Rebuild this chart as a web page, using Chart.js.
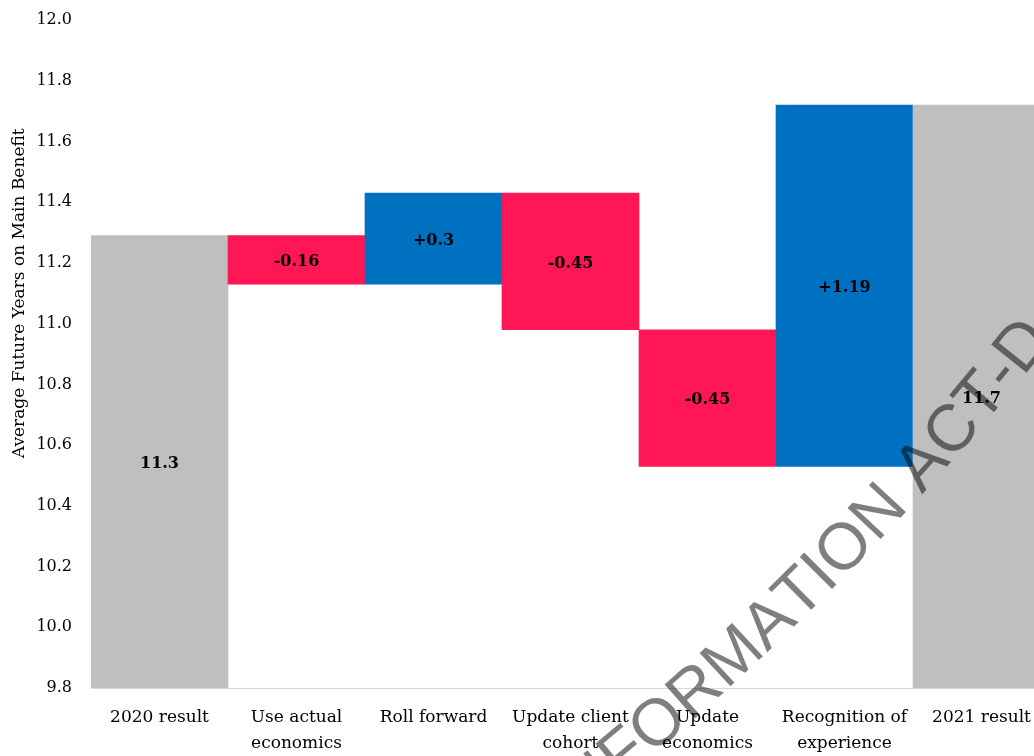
<!DOCTYPE html>
<html>
<head>
<meta charset="utf-8">
<script src="https://cdn.jsdelivr.net/npm/chart.js@4.4.1/dist/chart.umd.min.js"></script>
<style>
  html, body { margin: 0; padding: 0; background: #ffffff; overflow: hidden; width: 1034px; height: 756px; }
  #wrap { position: absolute; left: 0; top: -130px; }
</style>
</head>
<body>
<div id="wrap"><canvas id="chart" width="1070" height="900"></canvas></div>
<script>
// Waterfall: average future years on main benefit, 2020 result to 2021 result
const categories = [
  ['2020 result'],
  ['Use actual', 'economics'],
  ['Roll forward'],
  ['Update client', 'cohort'],
  ['Update', 'economics'],
  ['Recognition of', 'experience'],
  ['2021 result']
];
const startValue = 11.29;
const changes = [-0.16, 0.3, -0.45, -0.45, 1.19];
const yTicks = { min: 9.8, max: 12.4, step: 0.2 };
const watermarkText = 'INFORMATION ACT-D';

const COLORS = { total: '#BFBFBF', down: '#FF1654', up: '#0070C0' };

// running totals -> floating bar ranges
const ranges = [];
const barLabels = [];
const barColors = [];
ranges.push([yTicks.min, startValue]);
barLabels.push(startValue.toFixed(1));
barColors.push(COLORS.total);
let level = startValue;
changes.forEach(c => {
  const next = level + c;
  ranges.push([Math.min(level, next), Math.max(level, next)]);
  barLabels.push((c > 0 ? '+' : '') + String(c));
  barColors.push(c < 0 ? COLORS.down : COLORS.up);
  level = next;
});
ranges.push([yTicks.min, level]);
barLabels.push(level.toFixed(1));
barColors.push(COLORS.total);

// the canvas sits 130px above the page top, so the 12.2 / 12.4 part of the axis is cut off
const PAGE_OFFSET_Y = 130;

const valueLabels = {
  id: 'valueLabels',
  afterDatasetsDraw(chart) {
    const { ctx } = chart;
    const meta = chart.getDatasetMeta(0);
    ctx.save();
    ctx.font = "bold 16px 'DejaVu Serif', serif";
    ctx.fillStyle = '#000000';
    ctx.textAlign = 'center';
    ctx.textBaseline = 'middle';
    meta.data.forEach((bar, i) => {
      const { x, y, base } = bar.getProps(['x', 'y', 'base'], true);
      ctx.fillText(barLabels[i], x, (y + base) / 2 + 2);
    });
    ctx.restore();
  }
};

// stamp text set along a wide arc, anchored on the "T" of "ACT"
const watermark = {
  id: 'watermark',
  afterDraw(chart) {
    const { ctx } = chart;
    const anchorX = 982, anchorY = 398 + PAGE_OFFSET_Y;
    const thetaT = -50 * Math.PI / 180;
    const k = (12 * Math.PI / 180) / 600;      // curvature, rad per px
    ctx.save();
    ctx.font = "66px 'Liberation Sans', sans-serif";
    ctx.fillStyle = 'rgba(0,0,0,0.5)';
    ctx.textBaseline = 'middle';
    ctx.textAlign = 'center';
    const chars = watermarkText.split('');
    const widths = chars.map(c => ctx.measureText(c).width);
    const centers = [];
    let acc = 0;
    widths.forEach(w => { centers.push(acc + w / 2); acc += w; });
    const iT = watermarkText.indexOf('ACT') + 2;
    const sT = centers[iT];
    chars.forEach((c, i) => {
      const ds = centers[i] - sT;
      const th = thetaT - k * ds;
      const x = anchorX + (Math.sin(th) - Math.sin(thetaT)) / (-k);
      const y = anchorY + (Math.cos(thetaT) - Math.cos(th)) / (-k);
      ctx.save();
      ctx.translate(x, y);
      ctx.rotate(th);
      ctx.fillText(c, 0, 0);
      ctx.restore();
    });
    ctx.restore();
  }
};

new Chart(document.getElementById('chart'), {
  type: 'bar',
  data: {
    labels: categories,
    datasets: [{
      data: ranges,
      backgroundColor: barColors,
      borderWidth: 0,
      categoryPercentage: 1.0,
      barPercentage: 1.0
    }]
  },
  options: {
    responsive: false,
    animation: false,
    layout: { padding: { top: 26, right: 20, bottom: 0, left: 0 } },
    plugins: { legend: { display: false }, tooltip: { enabled: false } },
    scales: {
      x: {
        grid: { display: false, drawTicks: false },
        border: { display: true, color: '#D9D9D9', width: 1 },
        ticks: {
          color: '#000000',
          font: { family: "'DejaVu Serif', serif", size: 17, lineHeight: 1.55 },
          padding: 16,
          maxRotation: 0,
          autoSkip: false
        },
        afterFit(scale) { scale.height = 82; }
      },
      y: {
        min: yTicks.min,
        max: yTicks.max,
        grid: { display: false, drawTicks: false },
        border: { display: false },
        ticks: {
          stepSize: yTicks.step,
          color: '#000000',
          font: { family: "'DejaVu Serif', serif", size: 16 },
          padding: 19,
          callback: v => Number(v).toFixed(1)
        },
        title: {
          display: true,
          text: 'Average Future Years on Main Benefit',
          color: '#000000',
          font: { family: "'DejaVu Serif', serif", size: 17 },
          padding: { top: 9, bottom: 0 }
        },
        afterFit(scale) { scale.width = 91; }
      }
    }
  },
  plugins: [valueLabels, watermark]
});
</script>
</body>
</html>
